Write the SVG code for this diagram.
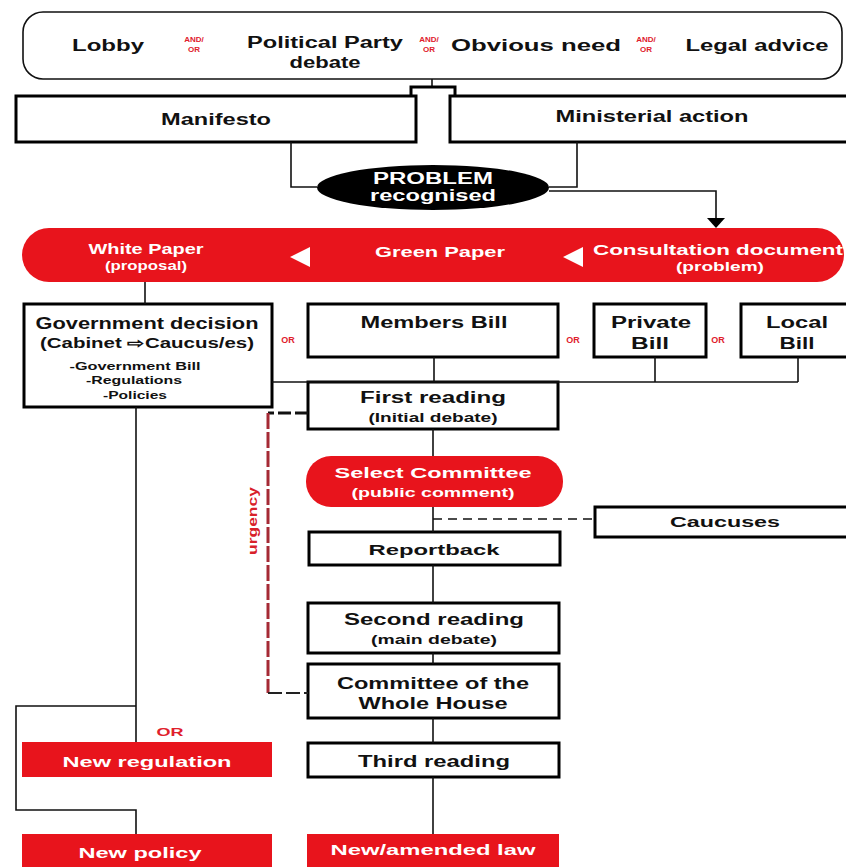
<svg xmlns="http://www.w3.org/2000/svg" width="846" height="867" viewBox="0 0 846 867">
<style>
  text { font-family: "Liberation Sans", Arial, sans-serif; font-weight: bold; text-anchor: middle; }
  .box { fill: #fff; stroke: #000; stroke-width: 3; }
  .red { fill: #e8141c; stroke: none; }
  .w { fill: #fff; }
  .k { fill: #111; }
  .ro { fill: #e0202c; }
  .ln { fill: none; stroke: #111; stroke-width: 1.6; }
</style>
<rect width="846" height="867" fill="#fff"/>

<g id="sources">
  <rect x="23" y="12" width="819" height="67" rx="20" ry="20" fill="#fff" stroke="#111" stroke-width="1.6"/>
  <text x="108" y="51" font-size="17" class="k" textLength="72" lengthAdjust="spacingAndGlyphs">Lobby</text>
  <text x="194" y="42" font-size="8" class="ro">AND/</text>
  <text x="194" y="52" font-size="8" class="ro">OR</text>
  <text x="325" y="48" font-size="16" class="k" textLength="156" lengthAdjust="spacingAndGlyphs">Political Party</text>
  <text x="325" y="68" font-size="16" class="k" textLength="71" lengthAdjust="spacingAndGlyphs">debate</text>
  <text x="429" y="42" font-size="8" class="ro">AND/</text>
  <text x="429" y="52" font-size="8" class="ro">OR</text>
  <text x="536" y="51" font-size="17" class="k" textLength="170" lengthAdjust="spacingAndGlyphs">Obvious need</text>
  <text x="646" y="42" font-size="8" class="ro">AND/</text>
  <text x="646" y="52" font-size="8" class="ro">OR</text>
  <text x="757" y="51" font-size="17" class="k" textLength="143" lengthAdjust="spacingAndGlyphs">Legal advice</text>
</g>

<g id="manifesto">
  <rect class="box" x="16" y="96" width="400" height="46"/>
  <text x="216" y="125" font-size="16" class="k" textLength="110" lengthAdjust="spacingAndGlyphs">Manifesto</text>
</g>

<g id="ministerial">
  <rect class="box" x="450" y="96" width="400" height="46"/>
  <text x="652" y="122" font-size="16" class="k" textLength="193" lengthAdjust="spacingAndGlyphs">Ministerial action</text>
</g>

<g id="problem">
  <ellipse cx="433" cy="187.5" rx="116" ry="22.5" fill="#000"/>
  <text x="433" y="184" font-size="16" class="w" textLength="120" lengthAdjust="spacingAndGlyphs">PROBLEM</text>
  <text x="433" y="201" font-size="16" class="w" textLength="126" lengthAdjust="spacingAndGlyphs">recognised</text>
</g>

<g id="papers">
  <rect class="red" x="22" y="228" width="822" height="54" rx="27" ry="27"/>
  <text x="146" y="254" font-size="14" class="w" textLength="115" lengthAdjust="spacingAndGlyphs">White Paper</text>
  <text x="146" y="270" font-size="12" class="w" textLength="82" lengthAdjust="spacingAndGlyphs">(proposal)</text>
  <polygon points="290,257 310,247 310,267" fill="#fff"/>
  <text x="440" y="257" font-size="14" class="w" textLength="130" lengthAdjust="spacingAndGlyphs">Green Paper</text>
  <polygon points="563,257 583,247 583,267" fill="#fff"/>
  <text x="718" y="255" font-size="14" class="w" textLength="250" lengthAdjust="spacingAndGlyphs">Consultation document</text>
  <text x="720" y="271" font-size="12" class="w" textLength="88" lengthAdjust="spacingAndGlyphs">(problem)</text>
</g>

<g id="government">
  <rect class="box" x="24" y="304" width="248" height="103"/>
  <text x="147" y="329" font-size="16" class="k" textLength="223" lengthAdjust="spacingAndGlyphs">Government decision</text>
  <text x="147" y="348" font-size="14" class="k" textLength="214" lengthAdjust="spacingAndGlyphs">(Cabinet ⇨Caucus/es)</text>
  <text x="135" y="370" font-size="10" class="k" textLength="131" lengthAdjust="spacingAndGlyphs">-Government Bill</text>
  <text x="134" y="384" font-size="10" class="k" textLength="96" lengthAdjust="spacingAndGlyphs">-Regulations</text>
  <text x="135" y="399" font-size="10" class="k" textLength="64" lengthAdjust="spacingAndGlyphs">-Policies</text>
</g>

<text x="288" y="343" font-size="9" class="ro">OR</text>
<g id="members">
  <rect class="box" x="308" y="304" width="250" height="53"/>
  <text x="434" y="328" font-size="16" class="k" textLength="147" lengthAdjust="spacingAndGlyphs">Members Bill</text>
</g>
<text x="573" y="343" font-size="9" class="ro">OR</text>
<g id="private">
  <rect class="box" x="594" y="304" width="112" height="53"/>
  <text x="651" y="328" font-size="16" class="k" textLength="80" lengthAdjust="spacingAndGlyphs">Private</text>
  <text x="650" y="349" font-size="16" class="k" textLength="38" lengthAdjust="spacingAndGlyphs">Bill</text>
</g>
<text x="718" y="343" font-size="9" class="ro">OR</text>
<g id="local">
  <rect class="box" x="741" y="304" width="110" height="53"/>
  <text x="797" y="328" font-size="16" class="k" textLength="62" lengthAdjust="spacingAndGlyphs">Local</text>
  <text x="797" y="349" font-size="16" class="k" textLength="35" lengthAdjust="spacingAndGlyphs">Bill</text>
</g>

<g id="first">
  <rect class="box" x="308" y="382" width="250" height="47"/>
  <text x="433" y="403" font-size="16" class="k" textLength="146" lengthAdjust="spacingAndGlyphs">First reading</text>
  <text x="433" y="422" font-size="12" class="k" textLength="129" lengthAdjust="spacingAndGlyphs">(Initial debate)</text>
</g>

<g id="select">
  <rect class="red" x="306" y="456" width="257" height="51" rx="25" ry="25"/>
  <text x="433" y="478" font-size="15" class="w" textLength="197" lengthAdjust="spacingAndGlyphs">Select Committee</text>
  <text x="433" y="497" font-size="12" class="w" textLength="163" lengthAdjust="spacingAndGlyphs">(public comment)</text>
</g>

<g id="caucuses">
  <rect class="box" x="595" y="507" width="256" height="30"/>
  <text x="725" y="527" font-size="15" class="k" textLength="110" lengthAdjust="spacingAndGlyphs">Caucuses</text>
</g>

<g id="reportback">
  <rect class="box" x="309" y="532" width="251" height="33"/>
  <text x="434" y="555" font-size="15" class="k" textLength="131" lengthAdjust="spacingAndGlyphs">Reportback</text>
</g>

<g id="second">
  <rect class="box" x="308" y="603" width="251" height="50"/>
  <text x="434" y="625" font-size="16" class="k" textLength="180" lengthAdjust="spacingAndGlyphs">Second reading</text>
  <text x="434" y="644" font-size="12" class="k" textLength="126" lengthAdjust="spacingAndGlyphs">(main debate)</text>
</g>

<g id="committee">
  <rect class="box" x="308" y="664" width="251" height="54" stroke-width="3.5"/>
  <text x="433" y="689" font-size="16" class="k" textLength="192" lengthAdjust="spacingAndGlyphs">Committee of the</text>
  <text x="433" y="709" font-size="16" class="k" textLength="149" lengthAdjust="spacingAndGlyphs">Whole House</text>
</g>

<g id="third">
  <rect class="box" x="308" y="743" width="251" height="34"/>
  <text x="434" y="767" font-size="16" class="k" textLength="152" lengthAdjust="spacingAndGlyphs">Third reading</text>
</g>

<g id="law">
  <rect class="red" x="307" y="834" width="252" height="40"/>
  <text x="433" y="855" font-size="15" class="w" textLength="205" lengthAdjust="spacingAndGlyphs">New/amended law</text>
</g>

<g id="regulation">
  <rect class="red" x="22" y="742" width="250" height="35"/>
  <text x="147" y="767" font-size="15" class="w" textLength="169" lengthAdjust="spacingAndGlyphs">New regulation</text>
</g>

<g id="policy">
  <rect class="red" x="22" y="834" width="250" height="40"/>
  <text x="140" y="858" font-size="15" class="w" textLength="123" lengthAdjust="spacingAndGlyphs">New policy</text>
</g>

<text x="170" y="736" font-size="11" class="ro" textLength="27" lengthAdjust="spacingAndGlyphs">OR</text>
<text x="0" y="0" font-size="13" fill="#d8202a" transform="translate(257,521) rotate(-90)" textLength="68" lengthAdjust="spacingAndGlyphs">urgency</text>

<g id="connectors">
  <polyline class="ln" points="432,79 432,87"/>
  <polyline fill="none" stroke="#000" stroke-width="3" points="411,96 411,87 455,87 455,96"/>
  <polyline class="ln" points="291,142 291,187 317,187"/>
  <polyline class="ln" points="577,142 577,187 549,187"/>
  <polyline class="ln" points="549,191 716,191 716,219"/>
  <polygon points="707,218 725,218 716,228" fill="#000"/>
  <line class="ln" x1="145" y1="282" x2="145" y2="304"/>
  <polyline class="ln" points="272,382 798,382"/>
  <line class="ln" x1="434" y1="357" x2="434" y2="382"/>
  <line class="ln" x1="655" y1="357" x2="655" y2="382"/>
  <line class="ln" x1="798" y1="357" x2="798" y2="382"/>
  <line class="ln" x1="433" y1="429" x2="433" y2="456"/>
  <line class="ln" x1="433" y1="507" x2="433" y2="532"/>
  <line class="ln" x1="433" y1="519" x2="595" y2="519" stroke-dasharray="9,6"/>
  <line class="ln" x1="433" y1="565" x2="433" y2="603"/>
  <line class="ln" x1="433" y1="653" x2="433" y2="664"/>
  <line class="ln" x1="433" y1="718" x2="433" y2="743"/>
  <line class="ln" x1="433" y1="777" x2="433" y2="834"/>
  <line class="ln" x1="136" y1="407" x2="136" y2="742"/>
  <polyline class="ln" points="136,706 16,706 16,810 136,810 136,834"/>
  <polyline fill="none" stroke="#111" stroke-width="3" stroke-dasharray="13,4" points="308,413 268,413"/>
  <line x1="268" y1="413" x2="268" y2="693" stroke="#a52a35" stroke-width="3" stroke-dasharray="16,3"/>
  <polyline fill="none" stroke="#222" stroke-width="2" stroke-dasharray="14,4" points="268,693 308,693"/>
</g>
</svg>
